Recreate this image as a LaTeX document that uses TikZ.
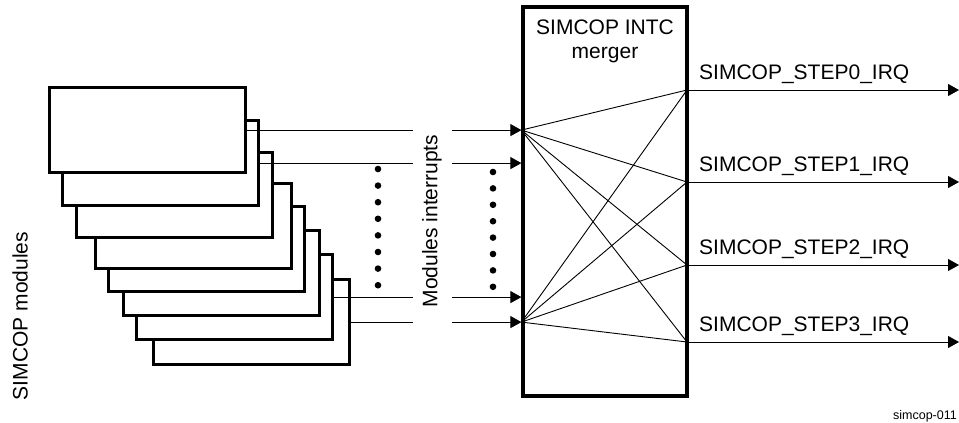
\documentclass[tikz,border=0pt]{standalone}
\usepackage{fontspec}
\setmainfont{Liberation Sans}
\usetikzlibrary{calc, arrows.meta}
\usetikzlibrary{positioning}

\begin{document}
\begin{tikzpicture}[x=1pt,y=-1pt,
    module/.style={draw, line width=3.2pt, fill=white, minimum width=196pt, minimum height=85pt, anchor=north west, inner sep=0pt},
    wire/.style={line width=0.9pt},
    sig/.style={wire, -{Triangle[length=11pt,width=12pt]}},
    lbl/.style={font=\fontsize{21}{24}\selectfont, inner sep=0pt}]
    \useasboundingbox (0,0) rectangle (959,423);
    \foreach \i/\x/\y in {8/152/278,7/135/253,6/122/229,5/107/205,4/94/182,3/75/151,2/61/119,1/48/86}
        \node[module] (m\i) at (\x,\y) {};
    \node[draw, line width=3.2pt, minimum width=164pt, minimum height=389pt, inner sep=0pt] (merger) at (605,201.5) {};
    \node[lbl, anchor=north, align=center] (title) at (605,20) {SIMCOP INTC\\merger};
    \coordinate (gapL) at (413,0);
    \coordinate (gapR) at (452,0);
    \foreach \i/\k in {1/0,2/1,7/2,8/3} {
        \draw[wire] (m\i.east) -- (m\i.east -| gapL);
        \draw[sig] (m\i.east -| gapR) -- (m\i.east -| merger.west) coordinate (in\k);
    }
    \coordinate (edge) at (959,0);
    \foreach \j/\y in {0/90,1/182,2/265,3/342} {
        \coordinate (out\j) at (687,\y);
        \draw[sig] (out\j) -- (out\j -| edge);
        \node[lbl, anchor=base west] (irq\j) at ([xshift=12pt,yshift=10.5pt]out\j) {SIMCOP\_STEP\j\_IRQ};
    }
    \foreach \a in {in0,in3}
        \foreach \j in {0,...,3}
            \draw[wire] (\a) -- (out\j);
    \foreach \k in {0,...,7} {
        \fill (378,169+16.6*\k) circle (3.3pt);
        \fill (493,172+16.4*\k) circle (3.3pt);
    }
    \node[lbl, rotate=90] (intlbl) at (432,221) {Modules interrupts};
    \node[lbl, rotate=90] (modlbl) at (20,316) {SIMCOP modules};
    \node[font=\fontsize{12.5}{15}\selectfont, inner sep=0pt, anchor=base east] (figid) at (957,419) {simcop-011};
\end{tikzpicture}
\end{document}
